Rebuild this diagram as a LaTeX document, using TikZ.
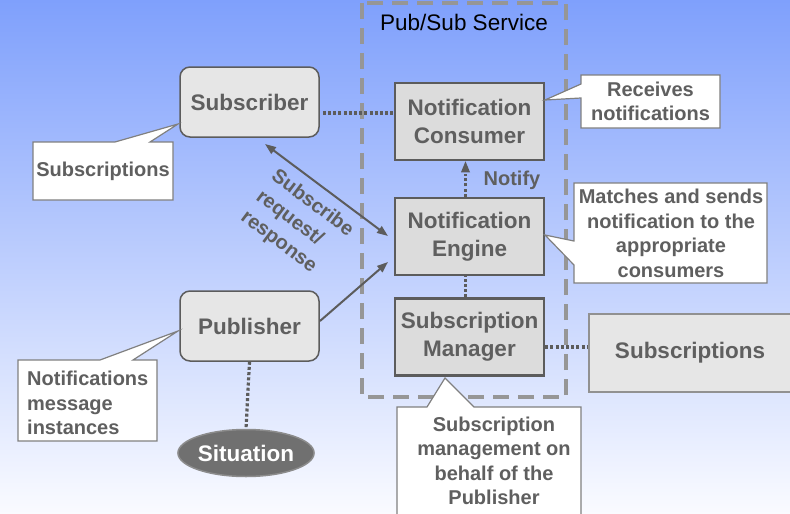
\documentclass[tikz,border=0pt]{standalone}
\usepackage{fontspec}
\setmainfont{Liberation Sans}
\usetikzlibrary{arrows.meta,shapes.geometric}
\definecolor{bgtop}{RGB}{127,160,252}
\definecolor{bgbot}{RGB}{250,251,255}
\definecolor{tgray}{RGB}{95,95,95}
\definecolor{bdark}{RGB}{92,92,92}
\definecolor{clbord}{RGB}{128,128,128}
\definecolor{fillA}{RGB}{230,230,230}
\definecolor{fillB}{RGB}{220,220,220}
\definecolor{dashc}{RGB}{150,150,150}
\definecolor{sitc}{RGB}{112,112,112}
\definecolor{sitb}{RGB}{140,140,140}
\definecolor{subb}{RGB}{145,145,145}
\begin{document}
\begin{tikzpicture}[x=1pt,y=-1pt,
  bigfont/.style={font=\fontsize{22.5}{28}\selectfont\bfseries},
  smallfont/.style={font=\fontsize{20}{24.5}\selectfont\bfseries},
  rbox/.style={bigfont, text=tgray, draw=bdark, line width=1.5pt, fill=fillA,
    rounded corners=10pt, minimum width=139pt, minimum height=70pt, inner sep=0pt},
  sbox/.style={bigfont, text=tgray, draw=bdark, line width=2.5pt, fill=fillB,
    minimum width=149pt, minimum height=77pt, inner sep=0pt, align=center},
  calloutshape/.style={fill=white, draw=clbord, line width=1.2pt},
  calltext/.style={smallfont, text=tgray, inner sep=0pt},
  dotline/.style={draw=bdark, line width=3.2pt, dash pattern=on 3pt off 2.2pt},
  conn/.style={draw=bdark, line width=2pt},
  tip/.style={-{Triangle[length=11pt,width=8pt]}},
  dashbox/.style={draw=dashc, line width=4pt, dash pattern=on 16pt off 9pt}
]
\useasboundingbox (0,0) rectangle (790,514);
\shade[top color=bgtop, bottom color=bgbot] (0,0) rectangle (790,514);

% Pub/Sub service frame
\draw[dashbox] (362,3) rectangle (566,397);
\node[font=\fontsize{22.5}{27}\selectfont, text=black, inner sep=0pt] (psl) at (464,22) {Pub/Sub Service};

% main boxes
\node[rbox] (subscriber) at (249.5,102) {Subscriber};
\node[rbox] (publisher) at (249.5,326) {Publisher};
\node[sbox] (consumer) at (469.5,121.5) {Notification\\Consumer};
\node[sbox] (engine) at (469.5,236.5) {Notification\\Engine};
\node[sbox] (manager) at (469.5,337) {Subscription\\Manager};
\node[bigfont, text=tgray, draw=subb, line width=2.5pt, fill=fillA, minimum width=202pt,
  minimum height=78pt, inner sep=0pt] (subs) at (690,353) {Subscriptions};
\node[ellipse, fill=sitc, draw=sitb, line width=1.5pt, minimum width=133pt, minimum height=47pt,
  inner sep=0pt, text=white, bigfont] (situation) at (246,453) {Situation};

% callouts
\filldraw[calloutshape] (33,142) -- (115,142) -- (178,124) -- (150,142) -- (173,142)
  -- (173,200) -- (33,200) -- cycle;
\node[calltext] (c1) at (103,171) {Subscriptions};

\filldraw[calloutshape] (581,75) -- (720,75) -- (720,128) -- (581,128) -- (581,98)
  -- (545,100) -- (581,84) -- cycle;
\node[calltext, align=center] (c2) at (650.5,101.5) {Receives\\notifications};

\filldraw[calloutshape] (574,183) -- (767,183) -- (767,283) -- (574,283) -- (574,265)
  -- (545,235) -- (574,241) -- cycle;
\node[calltext, align=center] (c3) at (671,233.5) {Matches and sends\\notification to the\\appropriate\\consumers};

\filldraw[calloutshape] (18,360) -- (100,360) -- (178,331) -- (133,360) -- (157,360)
  -- (157,441) -- (18,441) -- cycle;
\node[calltext, align=left, anchor=west] (c4) at (27,403) {Notifications\\message\\instances};

\filldraw[calloutshape] (397,518) -- (397,407) -- (427,407) -- (445,378) -- (474,407)
  -- (581,407) -- (581,518);
\node[calltext, align=center] (c5) at (494,461) {Subscription\\management on\\behalf of the\\Publisher};

% connectors
\path (subscriber.east) ++(3,11) coordinate (sd1);
\coordinate (sd2) at (consumer.west |- sd1);
\draw[dotline] (sd1) -- (sd2);
\coordinate (nb) at ([xshift=-4pt]engine.north);
\coordinate (nt) at ([xshift=-4pt]consumer.south);
\coordinate (nm) at ([xshift=-4pt,yshift=-11pt]consumer.south);
\draw[dotline] (nb) -- ([yshift=-2pt]nm);
\fill[bdark] (nt) -- ([xshift=-4.5pt]nm) -- ([xshift=4.5pt]nm) -- cycle;
\node[smallfont, text=tgray, inner sep=0pt] (notify) at (512,180) {Notify};
\draw[dotline] ([xshift=-4pt]manager.north) -- ([xshift=-4pt]engine.south);
\coordinate (md1) at ([yshift=-10pt]manager.east);
\coordinate (md2) at (subs.west |- md1);
\draw[dotline] (md1) -- (md2);
\draw[dotline] (publisher.south) -- (situation.north);

\coordinate (a1) at (265,144);
\coordinate (a2) at (388,236);
\coordinate (p1) at (320,321);
\coordinate (p2) at (388,262);
\draw[conn, {Triangle[length=11pt,width=8pt]}-{Triangle[length=11pt,width=8pt]}] (a1) -- (a2);
\draw[conn, tip] (p1) -- (p2);
\node[font=\fontsize{20}{25.5}\selectfont\bfseries, text=tgray, align=left, rotate=-36.8,
  inner sep=0pt] (sublbl) at (297,224) {Subscribe\\request/\\response};
\end{tikzpicture}
\end{document}
